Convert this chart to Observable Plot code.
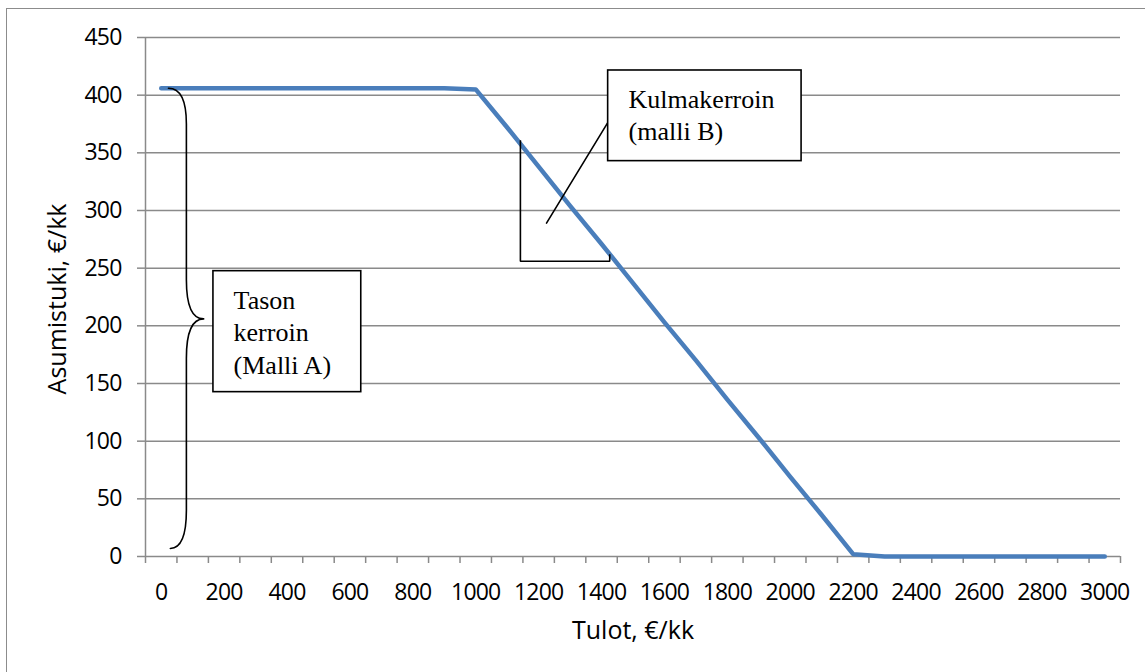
<!DOCTYPE html>
<html>
<head>
<meta charset="utf-8">
<script src="https://cdn.jsdelivr.net/npm/d3@7"></script>
<script src="https://cdn.jsdelivr.net/npm/@observablehq/plot@0.6"></script>
<style>
  html, body { margin: 0; padding: 0; background: #fff; overflow: hidden; }
  #wrap { position: relative; width: 1145px; height: 672px; }
  #frame { position: absolute; left: 6px; top: 8px; width: 2000px; height: 2000px;
           border-left: 1.5px solid #8c8c8c; border-top: 1.5px solid #8c8c8c; }
  #chart { position: absolute; left: 0; top: 0; }
  #chart g[aria-label="x-axis tick label"] text,
  #chart g[aria-label="y-axis tick label"] text { letter-spacing: -0.8px; }
</style>
</head>
<body>
<div id="wrap"><div id="frame"></div><div id="chart"></div></div>
<script>
// Monthly income categories (€/kk) and the housing allowance at each level (€/kk)
const incomes = [0, 100, 200, 300, 400, 500, 600, 700, 800, 900,
                 1000, 1100, 1200, 1300, 1400, 1500, 1600, 1700, 1800, 1900,
                 2000, 2100, 2200, 2300, 2400, 2500, 2600, 2700, 2800, 2900, 3000];
const allowance = [406, 406, 406, 406, 406, 406, 406, 406, 406, 406,
                   405, 372, 338, 304, 271, 237, 203, 170, 136, 103,
                   69, 36, 2, 0, 0, 0, 0, 0, 0, 0, 0];

// Axis ticks
const yTicks = [0, 50, 100, 150, 200, 250, 300, 350, 400, 450];
const xTickLabels = [0, 200, 400, 600, 800, 1000, 1200, 1400, 1600, 1800,
                     2000, 2200, 2400, 2600, 2800, 3000];

// Axis titles
const yTitle = "Asumistuki, €/kk";
const xTitle = "Tulot, €/kk";

// Curly brace marking the level (model A): start point, then control/end pairs
const braceX = [23, 80, 80, 80, 80, 80, 135, 80, 80, 80, 80, 80, 29];
const braceY = [406, 406, 375, 240, 240, 206, 206, 206, 172, 40, 40, 7, 7];

// Slope triangle (model B) and its leader line
const slopeX = [1142, 1142, 1426, 1426];
const slopeY = [361, 256, 256, 262];
const leaderX = [1426, 1225];
const leaderY = [379, 289];

// Text boxes
const boxX1 = [166, 1421];
const boxX2 = [636, 2036];
const boxY1 = [142.5, 342.8];
const boxY2 = [247.4, 421.4];
const labelText = ["Tason\nkerroin\n(Malli A)", "Kulmakerroin\n(malli B)"];
const labelX = [230, 1486];
const labelY = [234.3, 408.6];

// Each category occupies a 100-wide slot centred on its value
const half = 50;
const xDomain = [incomes[0] - half, incomes[incomes.length - 1] + half];
const boundaries = incomes.map(d => d - half).concat([xDomain[1]]);

const data = incomes.map((x, i) => ({income: x, value: allowance[i]}));

// Curve: first point is a moveTo, then (control, end) pairs drawn as quadratic Béziers
function quadPairs(context) {
  let pts = [];
  return {
    areaStart() {}, areaEnd() {},
    lineStart() { pts = []; },
    point(x, y) { pts.push([+x, +y]); },
    lineEnd() {
      if (!pts.length) return;
      context.moveTo(pts[0][0], pts[0][1]);
      for (let i = 1; i + 1 < pts.length; i += 2) {
        context.quadraticCurveTo(pts[i][0], pts[i][1], pts[i + 1][0], pts[i + 1][1]);
      }
    }
  };
}

const grid = "#8a8a8a";
const ink = "#000";

const chart = Plot.plot({
  width: 1145,
  height: 672,
  marginTop: 37,
  marginRight: 25,
  marginBottom: 116,
  marginLeft: 145,
  style: {fontFamily: "'Open Sans', sans-serif", fontSize: "23px", background: "transparent", color: ink},
  x: {type: "linear", domain: xDomain, axis: null},
  y: {type: "linear", domain: [0, 450], axis: null},
  marks: [
    Plot.ruleY(yTicks, {stroke: grid, strokeWidth: 1.5}),
    Plot.ruleX([xDomain[0]], {y1: 0, y2: 450, stroke: grid, strokeWidth: 1.5}),
    Plot.axisY({ticks: yTicks, tickSize: 8, tickPadding: 16, tickFormat: d => String(d),
                stroke: grid, strokeWidth: 1.5, fill: ink, label: null, fontSize: 23}),
    Plot.axisX({ticks: boundaries, tickSize: 7, tickFormat: () => "", stroke: grid, strokeWidth: 1.5, label: null}),
    Plot.axisX({ticks: xTickLabels, tickSize: 0, tickPadding: 27, tickFormat: d => String(d),
                fill: ink, label: null, fontSize: 23}),
    Plot.line(data, {x: "income", y: "value", stroke: "#4a7ebb", strokeWidth: 4.5}),
    Plot.line(braceX, {x: braceX, y: braceY, curve: quadPairs, stroke: ink, strokeWidth: 1.6}),
    Plot.line(slopeX, {x: slopeX, y: slopeY, stroke: ink, strokeWidth: 1.6, strokeLinecap: "butt", strokeLinejoin: "miter"}),
    Plot.line(leaderX, {x: leaderX, y: leaderY, stroke: ink, strokeWidth: 1.6}),
    Plot.rect(boxX1, {x1: boxX1, x2: boxX2, y1: boxY1, y2: boxY2, fill: "#fff", stroke: ink, strokeWidth: 1.6}),
    Plot.text(labelText, {x: labelX, y: labelY, text: d => d, textAnchor: "start", lineAnchor: "top",
                          lineHeight: 1.24, fontFamily: "'Liberation Serif', serif", fontSize: 26, fill: ink}),
    Plot.text([yTitle], {frameAnchor: "left", textAnchor: "middle", lineAnchor: "middle", dx: -88, dy: 2,
                         rotate: -90, text: d => d, fontSize: 25, fill: ink}),
    Plot.text([xTitle], {frameAnchor: "bottom", textAnchor: "middle", lineAnchor: "middle", dy: 74,
                         text: d => d, fontSize: 25, fill: ink})
  ]
});

document.getElementById("chart").appendChild(chart);
</script>
</body>
</html>
